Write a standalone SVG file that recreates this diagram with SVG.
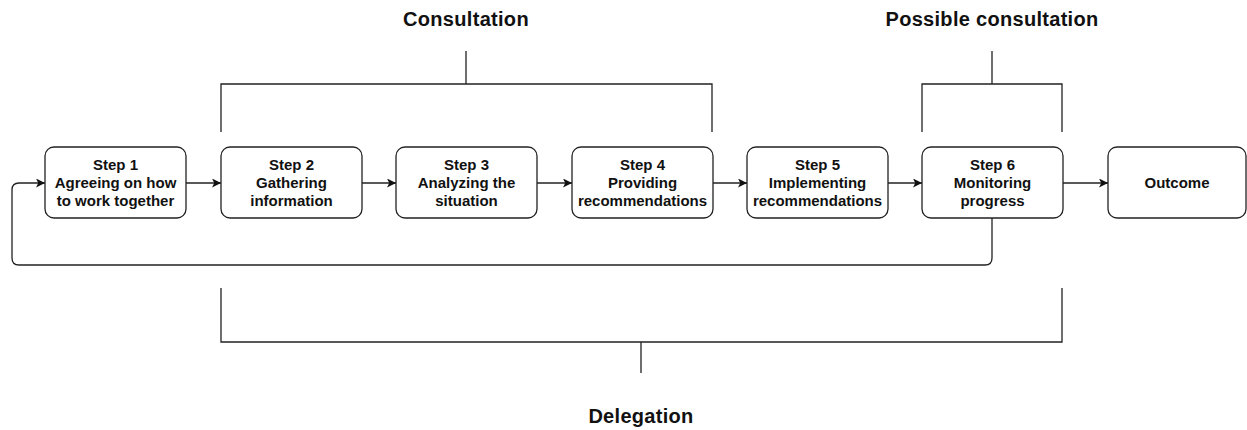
<svg xmlns="http://www.w3.org/2000/svg" width="1247" height="430" viewBox="0 0 1247 430">
<defs>
<style>
.box{fill:#fff;stroke:#222;stroke-width:1.3}
.t{font-family:"Liberation Sans",Arial,sans-serif;font-size:15px;font-weight:bold;fill:#111;text-anchor:middle}
.title{font-family:"Liberation Sans",Arial,sans-serif;font-size:20px;font-weight:bold;fill:#111;text-anchor:middle;letter-spacing:0.3px}
.ln{fill:none;stroke:#222;stroke-width:1.3}
</style>
<marker id="ah" viewBox="0 0 10 10" refX="10" refY="5" markerWidth="9" markerHeight="9" markerUnits="userSpaceOnUse" orient="auto">
<path d="M0,0 L10,5 L0,10 L2.5,5 Z" fill="#111"/>
</marker>
</defs>
<rect width="1247" height="430" fill="#fff"/>

<g id="n1"><rect class="box" x="45" y="147" width="141" height="71" rx="9"/>
<text class="t" x="115.5"><tspan x="115.5" y="170">Step 1</tspan><tspan x="115.5" y="188">Agreeing on how</tspan><tspan x="115.5" y="206">to work together</tspan></text></g>
<g id="n2"><rect class="box" x="221" y="147" width="141" height="71" rx="9"/>
<text class="t"><tspan x="291.5" y="170">Step 2</tspan><tspan x="291.5" y="188">Gathering</tspan><tspan x="291.5" y="206">information</tspan></text></g>
<g id="n3"><rect class="box" x="396" y="147" width="141" height="71" rx="9"/>
<text class="t"><tspan x="466.5" y="170">Step 3</tspan><tspan x="466.5" y="188">Analyzing the</tspan><tspan x="466.5" y="206">situation</tspan></text></g>
<g id="n4"><rect class="box" x="572" y="147" width="141" height="71" rx="9"/>
<text class="t"><tspan x="642.5" y="170">Step 4</tspan><tspan x="642.5" y="188">Providing</tspan><tspan x="642.5" y="206">recommendations</tspan></text></g>
<g id="n5"><rect class="box" x="747" y="147" width="141" height="71" rx="9"/>
<text class="t"><tspan x="817.5" y="170">Step 5</tspan><tspan x="817.5" y="188">Implementing</tspan><tspan x="817.5" y="206">recommendations</tspan></text></g>
<g id="n6"><rect class="box" x="922" y="147" width="141" height="71" rx="9"/>
<text class="t"><tspan x="992.5" y="170">Step 6</tspan><tspan x="992.5" y="188">Monitoring</tspan><tspan x="992.5" y="206">progress</tspan></text></g>
<g id="n7"><rect class="box" x="1108" y="147" width="138" height="71" rx="9"/>
<text class="t" x="1177" y="188">Outcome</text></g>

<g id="connectors">
<line class="ln" x1="186" y1="183" x2="221" y2="183" marker-end="url(#ah)"/>
<line class="ln" x1="362" y1="183" x2="396" y2="183" marker-end="url(#ah)"/>
<line class="ln" x1="537" y1="183" x2="572" y2="183" marker-end="url(#ah)"/>
<line class="ln" x1="713" y1="183" x2="747" y2="183" marker-end="url(#ah)"/>
<line class="ln" x1="888" y1="183" x2="922" y2="183" marker-end="url(#ah)"/>
<line class="ln" x1="1063" y1="183" x2="1108" y2="183" marker-end="url(#ah)"/>
<path class="ln" d="M992,218 V258 Q992,265 985,265 H19 Q12,265 12,258 V190 Q12,183 19,183 H45" marker-end="url(#ah)"/>
</g>

<g id="consultation">
<path class="ln" d="M221,132 V84 H712 V132 M466,84 V51"/>
<text class="title" x="466" y="26">Consultation</text>
</g>
<g id="possible-consultation">
<path class="ln" d="M922,132 V84 H1062 V132 M992,84 V51"/>
<text class="title" x="992" y="26">Possible consultation</text>
</g>
<g id="delegation">
<path class="ln" d="M221,288 V342 H1062 V288 M641,342 V373"/>
<text class="title" x="641" y="423">Delegation</text>
</g>
</svg>
